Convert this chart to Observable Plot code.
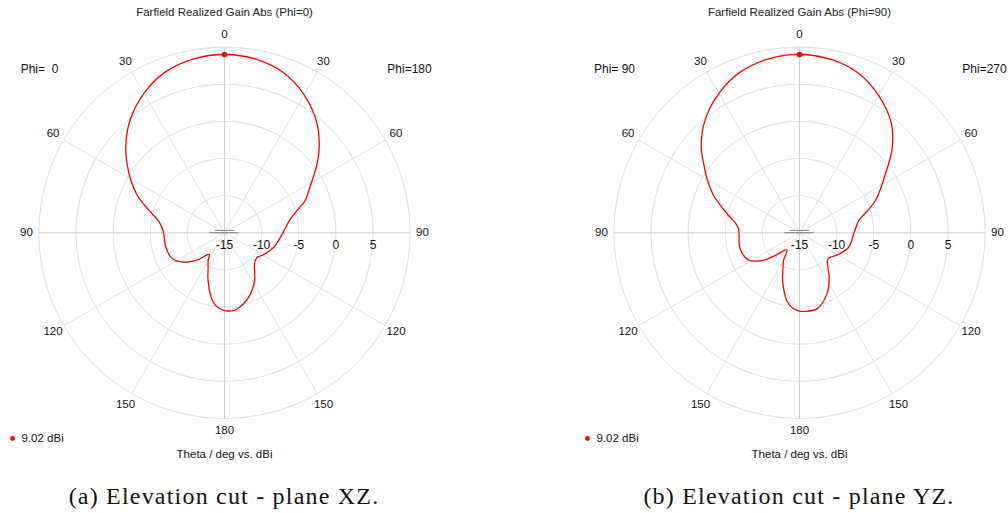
<!DOCTYPE html>
<html>
<head>
<meta charset="utf-8">
<script src="https://cdn.jsdelivr.net/npm/d3@7"></script>
<script src="https://cdn.jsdelivr.net/npm/@observablehq/plot@0.6"></script>
<style>
  html, body { margin: 0; padding: 0; background: #fff; overflow: hidden; }
  #wrap { display: flex; width: 1008px; height: 513px; }
  .panel { width: 504px; height: 513px; position: relative; }
  .panel svg { overflow: visible; white-space: pre; display: block; }
  .caption {
    position: absolute; top: 476px; height: 40px; line-height: 40px;
    font-family: "Liberation Serif", "DejaVu Serif", serif; font-size: 24px;
    letter-spacing: 1.2px; color: #111; text-align: center; white-space: nowrap;
  }
</style>
</head>
<body>
<div id="wrap"></div>
<script>
// Farfield realized gain (dBi) vs. theta (deg), two elevation cuts.
// Each cut has two half-planes: the left half of the polar plot and the right half.

// Cut XZ: Phi = 0 (left half) and Phi = 180 (right half)
const thetaPhi0 = [0, 10, 20, 30, 40, 49.1, 55.3, 60.8, 66.8, 71.1, 75.7, 80.2, 86, 91, 103.8, 116.6, 126, 135, 144.6, 149.4, 155, 161, 169.9, 175, 180];
const gainPhi0  = [9.02, 8.8, 8.1, 6.7, 4.8, 2.6, 0.92, -0.55, -2.23, -3.65, -5.03, -6.02, -6.6, -6.82, -6.86, -7.17, -8.27, -9.86, -11.42, -10.66, -9.77, -8.2, -5.74, -4.9, -4.53];
const thetaPhi180 = [0, 10, 20, 30, 40, 47.9, 52.85, 57.3, 62, 68.2, 72.6, 79.3, 87.8, 94.5, 106.3, 118.9, 128, 135.9, 142.7, 147.8, 156.9, 165, 170.5, 175, 180];
const gainPhi180  = [9.02, 8.78, 8.0, 6.45, 4.35, 2.19, 0.68, -0.71, -1.99, -3.31, -4.7, -6.11, -6.97, -7.43, -8.07, -8.95, -9.5, -9.2, -8.3, -7.4, -6.06, -5.1, -4.6, -4.45, -4.53];

// Cut YZ: Phi = 90 (left half) and Phi = 270 (right half)
const thetaPhi90 = [0, 10, 20, 30, 40, 48.9, 54.8, 60.4, 66.55, 70.9, 76.3, 80.9, 86, 91, 105, 117.9, 126.4, 133, 143.5, 150, 155, 160.4, 169.5, 175, 180];
const gainPhi90  = [9.02, 8.8, 8.1, 6.7, 4.8, 2.57, 0.73, -0.75, -2.38, -3.74, -5.15, -6.2, -6.76, -6.85, -6.72, -7.2, -8.7, -10.5, -12.15, -10.7, -9.74, -8.2, -5.7, -4.8, -4.45];
const thetaPhi270 = [0, 10, 20, 30, 40, 47.3, 51.85, 55.5, 60.9, 67, 71.9, 78.3, 91, 106.4, 119, 132.5, 140.5, 146.2, 155.8, 167.1, 177, 180];
const gainPhi270  = [9.02, 8.75, 7.95, 6.35, 4.25, 2.0, 0.33, -0.95, -2.44, -3.88, -5.32, -6.84, -7.69, -8.1, -9.0, -9.8, -9.0, -7.8, -5.98, -4.49, -4.4, -4.45];

// Axis ticks
const radialTicks = [-15, -10, -5, 0, 5, 10];      // grid rings, dBi
const radialLabels = [-15, -10, -5, 0, 5];         // labelled rings
const angleTicks = [0, 30, 60, 90, 120, 150, 180]; // theta, deg
const maxGain = 9.02;

const cuts = [
  {
    title: "Farfield Realized Gain Abs (Phi=0)",
    leftPhi: "Phi=  0", rightPhi: "Phi=180",
    left: {theta: thetaPhi0, gain: gainPhi0},
    right: {theta: thetaPhi180, gain: gainPhi180},
    caption: "(a) Elevation cut - plane XZ.",
    cx: 224
  },
  {
    title: "Farfield Realized Gain Abs (Phi=90)",
    leftPhi: "Phi= 90", rightPhi: "Phi=270",
    left: {theta: thetaPhi90, gain: gainPhi90},
    right: {theta: thetaPhi270, gain: gainPhi270},
    caption: "(b) Elevation cut - plane YZ.",
    cx: 295
  }
];

const rMin = radialTicks[0];                       // centre of the plot
const W = 504, H = 474, CY = 232.3;
const K = 185.6 / (radialTicks[radialTicks.length - 1] - rMin); // px per dB
const rad = d => d * Math.PI / 180;
// side = -1 for the left half, +1 for the right half
const polar = (theta, gain, side) => {
  const u = Math.max(0, gain - rMin);
  return {x: side * u * Math.sin(rad(theta)), y: u * Math.cos(rad(theta))};
};
const px = p => p / K; // pixel offset to data units

const font = "Liberation Sans, Arial, sans-serif";

function drawCut(c) {
  const R = radialTicks[radialTicks.length - 1] - rMin;
  // closed pattern: right half top->bottom, then left half bottom->top
  const pattern = [
    ...c.right.theta.map((t, i) => polar(t, c.right.gain[i], 1)),
    ...c.left.theta.map((t, i) => polar(t, c.left.gain[i], -1))
      .filter((_, i) => c.left.theta[i] > 0 && c.left.theta[i] < 180)
      .reverse()
  ];

  const circleSteps = d3.range(0, 361, 2);
  const rings = radialTicks.slice(1).flatMap(g =>
    circleSteps.map(a => ({ring: g, ...polar(a, g, 1)})));

  const spokes = d3.range(0, 360, 30).map(a => ({
    main: a % 90 === 0,
    x2: R * Math.sin(rad(a)), y2: R * Math.cos(rad(a))
  }));

  const LR = px(198);
  const angleLabels = [
    ...angleTicks.map(a => ({a, side: -1})),
    ...angleTicks.filter(a => a > 0 && a < 180).map(a => ({a, side: 1}))
  ].map(d => ({text: String(d.a), x: d.side * LR * Math.sin(rad(d.a)), y: LR * Math.cos(rad(d.a))}));

  const ringLabels = radialLabels.map(g => ({text: String(g), x: g - rMin, y: px(-12.5)}));

  const top = polar(0, maxGain, 1);

  const svg = Plot.plot({
    width: W, height: H, margin: 0,
    style: {fontFamily: font, fontSize: "11px", color: "#111", background: "transparent"},
    x: {domain: [px(-c.cx), px(W - c.cx)], axis: null},
    y: {domain: [px(-(H - CY)), px(CY)], axis: null},
    marks: [
      Plot.line(rings, {x: "x", y: "y", z: "ring", stroke: "#dedede", strokeWidth: 1}),
      Plot.link(spokes.filter(d => !d.main), {x1: 0, y1: 0, x2: "x2", y2: "y2", stroke: "#e2e2e2", strokeWidth: 1}),
      Plot.link(spokes.filter(d => d.main), {x1: 0, y1: 0, x2: "x2", y2: "y2", stroke: "#cfcfcf", strokeWidth: 1}),
      // small centre marker
      Plot.link([{x1: px(-15), x2: px(14), y: 0}], {x1: "x1", x2: "x2", y1: "y", y2: "y", stroke: "#777", strokeWidth: 1}),
      Plot.link([{x1: px(-10), x2: px(10), y: px(2.4)}], {x1: "x1", x2: "x2", y1: "y", y2: "y", stroke: "#888", strokeWidth: 1}),
      Plot.line(pattern, {x: "x", y: "y", curve: "catmull-rom-closed", stroke: "#ff0000", strokeWidth: 1.3}),
      Plot.dot([top], {x: "x", y: "y", r: 2.8, fill: "#ff0000"}),
      Plot.text(angleLabels, {x: "x", y: "y", text: "text", fontSize: 11.5, fill: "#111"}),
      Plot.text(ringLabels, {x: "x", y: "y", text: "text", fontSize: 12, fill: "#111"}),
      Plot.text([c.title], {x: 0, y: px(CY - 12), text: d => d, fontSize: 11.5, fill: "#222"}),
      Plot.text([c.leftPhi], {x: px(-185), y: px(CY - 68.5), text: d => d, fontSize: 12, fill: "#111"}),
      Plot.text([c.rightPhi], {x: px(185), y: px(CY - 68.5), text: d => d, fontSize: 12, fill: "#111"}),
      Plot.dot([maxGain], {x: px(-212), y: px(CY - 438), r: 2.4, fill: "#ff0000"}),
      Plot.text([`${maxGain.toFixed(2)} dBi`], {x: px(-203), y: px(CY - 438), text: d => d, textAnchor: "start", fontSize: 11.5, fill: "#111"}),
      Plot.text(["Theta / deg vs. dBi"], {x: 0, y: px(CY - 454), text: d => d, fontSize: 11.5, fill: "#111"})
    ]
  });

  const panel = document.createElement("div");
  panel.className = "panel";
  panel.appendChild(svg);
  const cap = document.createElement("div");
  cap.className = "caption";
  cap.textContent = c.caption;
  cap.style.left = (c.cx - 250) + "px";
  cap.style.width = "500px";
  panel.appendChild(cap);
  document.getElementById("wrap").appendChild(panel);
}

cuts.forEach(drawCut);
</script>
</body>
</html>
